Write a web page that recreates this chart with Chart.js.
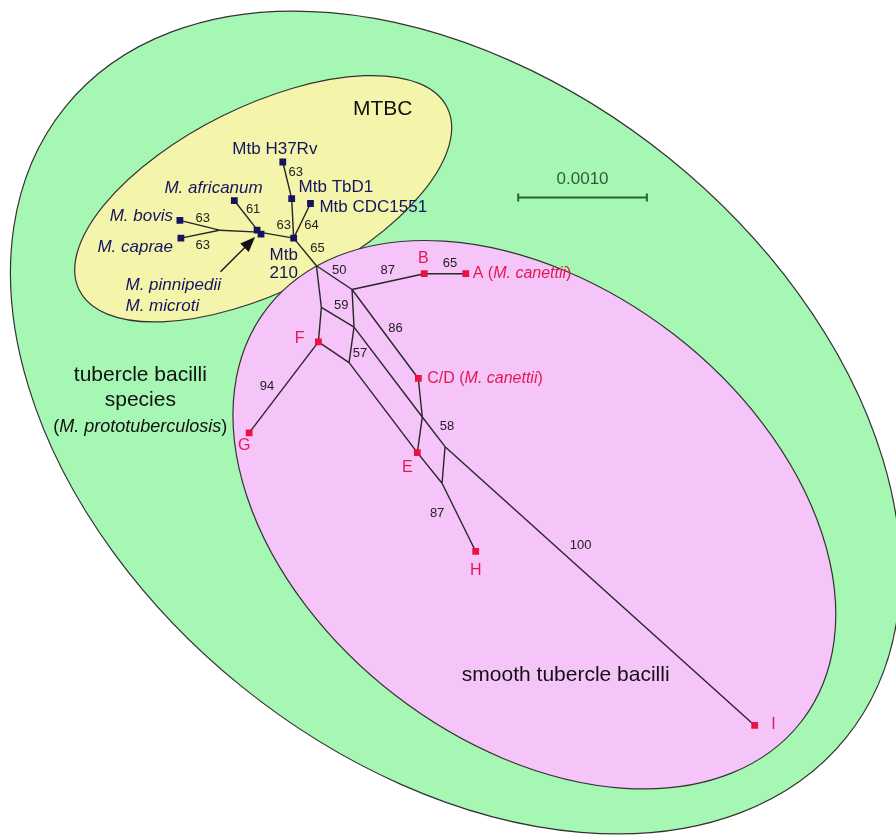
<!DOCTYPE html>
<html><head><meta charset="utf-8">
<script src="https://cdn.jsdelivr.net/npm/chart.js@4.4.1/dist/chart.umd.min.js"></script>
<style>html,body{margin:0;padding:0;background:#fff;overflow:hidden}#wrap{width:896px;height:840px}</style>
</head><body><div id="wrap"><canvas id="c" width="896" height="840"></canvas></div>
<script>
// ---------- DATA ----------
const taxa   = ['Mtb H37Rv','Mtb TbD1','Mtb CDC1551','M. africanum','M. bovis','M. caprae','M. pinnipedii','M. microti','Mtb 210',
                'A','B','C/D','E','F','G','H','I'];
const taxonGroup = ['MTBC','MTBC','MTBC','MTBC','MTBC','MTBC','MTBC','MTBC','MTBC',
                'smooth','smooth','smooth','smooth','smooth','smooth','smooth','smooth'];
const taxonX = [281,290,309,232,177,178,255,259,292, 466,424,418,417,317,247,476,758];
const taxonY = [159,196,201,198,218,236,228,232,236, 272,272,378,453,341,433,553,729];

const junctions = ['jBC','jPM','J0','J1','J2','J3','J5','J6','J7','J8'];
const junctionX = [217,257,315,351,320,353,348,422,445,442];
const junctionY = [228,230,264,288,306,326,362,417,447,484];

const edgeFrom = ['Mtb H37Rv','Mtb TbD1','Mtb CDC1551','M. africanum','M. bovis','M. caprae','jBC','jPM','Mtb 210',
  'J0','J1','B','J1','J1','J0','J2','J2','J3','F','F','J3','J6','J7','C/D','J6','J5','E','J8','J7'];
const edgeTo   = ['Mtb TbD1','Mtb 210','Mtb 210','jPM','jBC','jBC','jPM','Mtb 210','J0',
  'J1','B','A','J3','C/D','J2','J3','F','J5','J5','G','J6','J7','I','J6','E','E','J8','H','J8'];

const supportValues = [63,63,61,63,63,64,65, 50,87,65,59,86,57,94,58,87,100];
const supportX = [200,200,251,294,282,310,316, 338,387,450,340,395,359,265,447,437,582];
const supportY = [216,243,207,170,223,223,246, 269,269,262,304,327,353,386,427,515,547];

const scaleBarLength = 0.0010;

// ---------- regions (ellipses: centre, semi-axes, tilt of major axis in degrees) ----------
const regionNames = ['tubercle bacilli species','MTBC','smooth tubercle bacilli'];
const regionCX = [455.6, 261.2, 535.3];
const regionCY = [422.5, 196.2, 515.8];
const regionMajor = [507.3, 207.6, 341.4];
const regionMinor = [343.7, 93.4, 230.6];
const regionTilt = [38.9, -26.4, 37.7];
const regionFill = ['#a6f7b3','#f4f4aa','#f5c4f9'];

// ---------- layout / style ----------
const NAVY='#14145f', RED='#e5194f', LINE='#262626';
const FONT='"Liberation Sans", Arial, Helvetica, sans-serif';
const taxonLabels = {
 'Mtb H37Rv':{segs:[['Mtb H37Rv',0]],x:273,y:146,align:'center'},
 'Mtb TbD1':{segs:[['Mtb TbD1',0]],x:297,y:185,align:'left'},
 'Mtb CDC1551':{segs:[['Mtb CDC1551',0]],x:318,y:205,align:'left'},
 'M. africanum':{segs:[['M. africanum',1]],x:211,y:186,align:'center'},
 'M. bovis':{segs:[['M. bovis',1]],x:170,y:214,align:'right'},
 'M. caprae':{segs:[['M. caprae',1]],x:170,y:245,align:'right'},
 'M. pinnipedii':{segs:[['M. pinnipedii',1]],x:122,y:284,align:'left'},
 'M. microti':{segs:[['M. microti',1]],x:122,y:305,align:'left'},
 'Mtb 210':{segs:[['Mtb',0]],x:282,y:253,align:'center',line2:'210'},
 'A':{segs:[['A (',0],['M. canettii',1],[')',0]],x:473,y:272,align:'left'},
 'B':{segs:[['B',0]],x:423,y:257,align:'center'},
 'C/D':{segs:[['C/D (',0],['M. canettii',1],[')',0]],x:427,y:378,align:'left'},
 'E':{segs:[['E',0]],x:407,y:468,align:'center'},
 'F':{segs:[['F',0]],x:298,y:338,align:'center'},
 'G':{segs:[['G',0]],x:242,y:446,align:'center'},
 'H':{segs:[['H',0]],x:476,y:572,align:'center'},
 'I':{segs:[['I',0]],x:777,y:728,align:'center'}
};

function pos(name){let i=taxa.indexOf(name);if(i>=0)return {x:taxonX[i],y:taxonY[i]};i=junctions.indexOf(name);return {x:junctionX[i],y:junctionY[i]};}

function drawSegs(ctx,segs,x,y,align,size,color){
 ctx.fillStyle=color;ctx.textBaseline='middle';ctx.textAlign='left';
 let w=0;segs.forEach(s=>{ctx.font=(s[1]?'italic ':'')+size+'px '+FONT;w+=ctx.measureText(s[0]).width;});
 let cx=align==='left'?x:align==='right'?x-w:x-w/2;
 segs.forEach(s=>{ctx.font=(s[1]?'italic ':'')+size+'px '+FONT;ctx.fillText(s[0],cx,y);cx+=ctx.measureText(s[0]).width;});
}

const regionPlugin={id:'regions',beforeDatasetsDraw(chart){const ctx=chart.ctx,xs=chart.scales.x,ys=chart.scales.y;ctx.save();
 regionNames.forEach((n,i)=>{const px=xs.getPixelForValue(regionCX[i]),py=ys.getPixelForValue(regionCY[i]);
  const ra=Math.abs(xs.getPixelForValue(regionCX[i]+regionMajor[i])-px), rb=Math.abs(ys.getPixelForValue(regionCY[i]+regionMinor[i])-py);
  ctx.beginPath();ctx.ellipse(px,py,ra,rb,regionTilt[i]*Math.PI/180,0,Math.PI*2);
  ctx.fillStyle=regionFill[i];ctx.fill();ctx.lineWidth=1.2;ctx.strokeStyle='#333';ctx.stroke();});
 // arrow pointing at M. pinnipedii / M. microti
 const a0={x:xs.getPixelForValue(218),y:ys.getPixelForValue(270)},a1={x:xs.getPixelForValue(253),y:ys.getPixelForValue(235)};
 const ang=Math.atan2(a1.y-a0.y,a1.x-a0.x);ctx.strokeStyle='#111';ctx.lineWidth=1.3;ctx.beginPath();ctx.moveTo(a0.x,a0.y);ctx.lineTo(a1.x-10*Math.cos(ang),a1.y-10*Math.sin(ang));ctx.stroke();
 ctx.fillStyle='#111';ctx.beginPath();ctx.moveTo(a1.x,a1.y);ctx.lineTo(a1.x-15*Math.cos(ang)+6*Math.sin(ang),a1.y-15*Math.sin(ang)-6*Math.cos(ang));ctx.lineTo(a1.x-15*Math.cos(ang)-6*Math.sin(ang),a1.y-15*Math.sin(ang)+6*Math.cos(ang));ctx.closePath();ctx.fill();
 ctx.restore();}};

const textPlugin={id:'texts',afterDatasetsDraw(chart){const ctx=chart.ctx,xs=chart.scales.x,ys=chart.scales.y;ctx.save();
 const P=(x,y)=>({x:xs.getPixelForValue(x),y:ys.getPixelForValue(y)});
 taxa.forEach((t,i)=>{const L=taxonLabels[t];const p=P(L.x,L.y);const mt=taxonGroup[i]==='MTBC';
  drawSegs(ctx,L.segs,p.x,p.y,L.align,mt?17:16,mt?NAVY:RED);
  if(L.line2){const q=P(L.x,L.y+19);drawSegs(ctx,[[L.line2,0]],q.x,q.y,'center',17,NAVY);}});
 supportValues.forEach((v,i)=>{const p=P(supportX[i],supportY[i]);drawSegs(ctx,[[String(v),0]],p.x,p.y,'center',13,'#222');});
 let p=P(382,106);drawSegs(ctx,[['MTBC',0]],p.x,p.y,'center',21,'#111');
 p=P(137,375);drawSegs(ctx,[['tubercle bacilli',0]],p.x,p.y,'center',21,'#111');
 p=P(137,400);drawSegs(ctx,[['species',0]],p.x,p.y,'center',21,'#111');
 p=P(137,427);drawSegs(ctx,[['(',0],['M. prototuberculosis',1],[')',0]],p.x,p.y,'center',18,'#111');
 p=P(567,678);drawSegs(ctx,[['smooth tubercle bacilli',0]],p.x,p.y,'center',21,'#111');
 // scale bar
 const unitPx=130/scaleBarLength; const b0=P(519,195),b1=P(519+scaleBarLength*unitPx,195);
 ctx.strokeStyle='#2e5e3a';ctx.lineWidth=2;ctx.beginPath();ctx.moveTo(b0.x,b0.y);ctx.lineTo(b1.x,b1.y);ctx.moveTo(b0.x,b0.y-4);ctx.lineTo(b0.x,b0.y+4);ctx.moveTo(b1.x,b1.y-4);ctx.lineTo(b1.x,b1.y+4);ctx.stroke();
 drawSegs(ctx,[[scaleBarLength.toFixed(4),0]],(b0.x+b1.x)/2,b0.y-18,'center',17,'#2e5e3a');
 ctx.restore();}};

const datasets=[];
edgeFrom.forEach((f,i)=>{const a=pos(f),b=pos(edgeTo[i]);datasets.push({type:'scatter',data:[a,b],showLine:true,borderColor:LINE,borderWidth:1.4,pointRadius:0,order:2});});
datasets.push({type:'scatter',label:'MTBC',data:taxa.map((t,i)=>({x:taxonX[i],y:taxonY[i]})).filter((d,i)=>taxonGroup[i]==='MTBC'),pointStyle:'rect',pointRadius:4.8,backgroundColor:NAVY,borderColor:NAVY,borderWidth:0,order:1});
datasets.push({type:'scatter',label:'smooth',data:taxa.map((t,i)=>({x:taxonX[i],y:taxonY[i]})).filter((d,i)=>taxonGroup[i]==='smooth'),pointStyle:'rect',pointRadius:4.8,backgroundColor:'#ee1040',borderColor:'#ee1040',borderWidth:0,order:1});

new Chart(document.getElementById('c'),{type:'scatter',data:{datasets},
 options:{responsive:false,animation:false,devicePixelRatio:1,layout:{padding:0},
  plugins:{legend:{display:false},tooltip:{enabled:false}},
  scales:{x:{type:'linear',min:0,max:896,display:false},y:{type:'linear',min:0,max:840,reverse:true,display:false}}},
 plugins:[regionPlugin,textPlugin]});
</script></body></html>
